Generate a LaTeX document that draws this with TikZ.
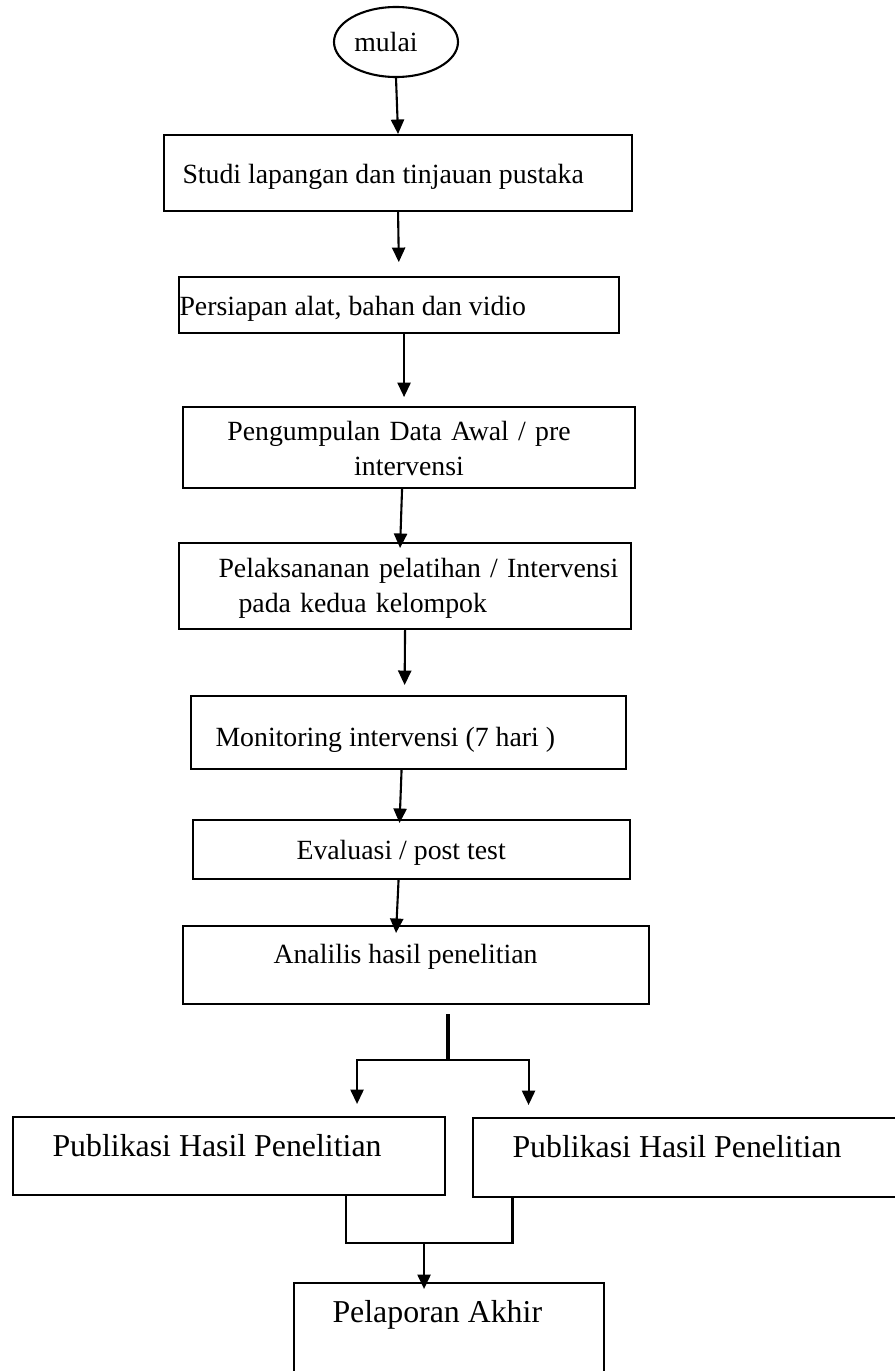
\documentclass[tikz,border=0pt]{standalone}
\usepackage{fontspec}
\setmainfont{Liberation Serif}
\usepackage{tikz}
\usetikzlibrary{shapes, arrows.meta, positioning, calc}
\newcommand{\pxu}{0.38pt}
\tikzset{
  flowbox/.style 2 args={draw, line width=0.8pt, inner sep=0pt, anchor=north west,
    minimum width=#1*\pxu, minimum height=#2*\pxu},
  steptext/.style={inner sep=0pt, anchor=base west, font=\fontsize{10.56}{13.3}\selectfont},
  bigtext/.style={inner sep=0pt, anchor=base west, font=\fontsize{12.1}{14.5}\selectfont},
  arr/.style={-{Triangle[length=5.5pt, width=5pt]}, line width=0.8pt},
}

\begin{document}
\begin{tikzpicture}[x=\pxu, y=-\pxu]
  \useasboundingbox (0,0) rectangle (894,1371);

  % Start
  \node[draw, ellipse, line width=0.8pt, inner sep=0pt, minimum width=124*\pxu, minimum height=70*\pxu, font=\fontsize{10.56}{13.3}\selectfont] (mulai) at (396,42) {mulai\hspace*{7.6pt}};

  % Main steps
  \node[flowbox={468}{76}] (studi) at (163,134) {};
  \node[steptext] (studitxt) at (182,183) {Studi lapangan dan tinjauan pustaka};
  \node[flowbox={440}{56}] (persiapan) at (178,276) {};
  \node[steptext] (persiapantxt) at (179,315) {Persiapan alat, bahan dan vidio};
  \node[flowbox={452}{81}] (pengumpulan) at (182,406) {};
  \node[steptext, anchor=base, text width=150pt, align=center] (pengumpulantxt) at (399,440) {Pengumpulan Data Awal / pre\\\hspace*{7.6pt}intervensi};
  \node[flowbox={452}{86}] (pelaksanaan) at (178,542) {};
  \node[steptext, text width=170pt, align=left] (pelaksanaantxt) at (218,577) {\makebox[155.4pt][s]{Pelaksananan pelatihan / Intervensi}\\\hspace*{7.6pt}pada kedua kelompok};
  \node[flowbox={435}{73}] (monitoring) at (190,695) {};
  \node[steptext] (monitoringtxt) at (215,746) {Monitoring intervensi (7 hari )};
  \node[flowbox={437}{59}] (evaluasi) at (192,819) {};
  \node[steptext] (evaluasitxt) at (296,859) {Evaluasi / post test};
  \node[flowbox={466}{78}] (analisis) at (182,925) {};
  \node[steptext] (analisistxt) at (273,963) {Analilis hasil penelitian};

  % Outputs
  \node[flowbox={432}{78}] (publikasiA) at (12,1116) {};
  \node[bigtext] (publikasiAtxt) at (52,1156) {Publikasi Hasil Penelitian};
  \node[flowbox={433}{79}] (publikasiB) at (472,1117) {};
  \node[bigtext] (publikasiBtxt) at (512,1157) {Publikasi Hasil Penelitian};
  \node[flowbox={310}{120}] (pelaporan) at (293,1282) {};
  \node[bigtext] (pelaporantxt) at (332,1322) {Pelaporan Akhir};

  % Arrows
  \draw[arr] (mulai.south) -- (studi.north);
  \draw[arr, shorten >=5.3pt] (studi.south) -- (persiapan.north);
  \draw[arr, shorten >=3.4pt] ($(persiapan.south)+(5,0)$) -- ($(pengumpulan.north)+(-5,0)$);
  \draw[arr] ($(pengumpulan.south)+(-7,0)$) -- ($(pelaksanaan.north)+(-5,6)$);
  \draw[arr, shorten >=3.8pt] (pelaksanaan.south) -- ($(monitoring.north)+(-4,0)$);
  \draw[arr] ($(monitoring.south)+(-7,0)$) -- ($(evaluasi.north)+(-12,4)$);
  \draw[arr] ($(evaluasi.south)+(-13,0)$) -- ($(analisis.north)+(-20,8)$);

  % Split
  \coordinate (fork) at ($(analisis.south)+(32,55)$);
  \draw[line width=1.7pt] ($(analisis.south)+(32,9)$) -- (fork);
  \draw[arr] (fork) -| ($(publikasiA.north)+(128,-12)$);
  \draw[arr] (fork) -| ($(publikasiB.north)+(-161,-12)$);

  % Merge
  \coordinate (merge) at ($(pelaporan.north)+(-25,-39)$);
  \draw[line width=0.9pt] ($(publikasiA.south)+(117,0)$) |- (merge) -| ($(publikasiB.south)+(-177,0)$);
  \draw[arr] (merge) -- ($(pelaporan.north)+(-25,7)$);
\end{tikzpicture}
\end{document}
